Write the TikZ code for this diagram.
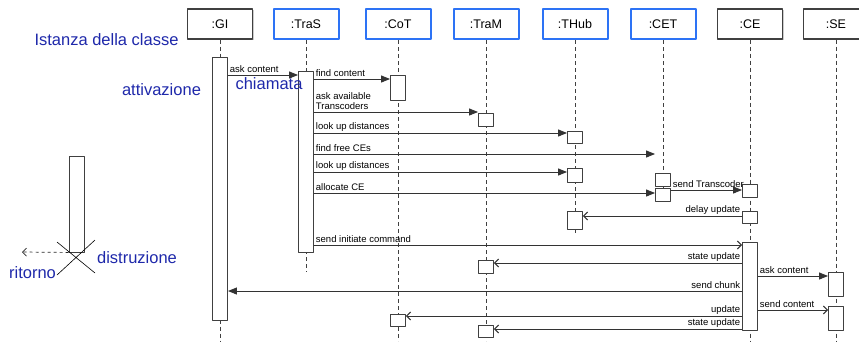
\documentclass[tikz,border=0pt]{standalone}
\usepackage{fontspec}
\setmainfont{Liberation Sans}
\usetikzlibrary{arrows.meta,shadows}
\definecolor{objblue}{RGB}{45,115,245}
\definecolor{annblue}{RGB}{30,40,170}
\tikzset{
  obj/.style={draw, fill=white, minimum width=65, minimum height=30, inner sep=0pt, font=\fontsize{12.5}{14}\selectfont},
  objblack/.style={obj, draw=black!75, line width=1.1pt, drop shadow={shadow xshift=1pt, shadow yshift=-1pt, opacity=0.4}},
  objbl/.style={obj, draw=objblue, line width=2pt},
  life/.style={draw=black!75, line width=0.8pt, dash pattern=on 4pt off 3pt},
  act/.style={draw=black!75, fill=white, line width=0.9pt, minimum width=15, inner sep=0pt},
  call/.style={draw=black!80, line width=1pt, -{Triangle[length=9pt,width=7pt]}},
  ret/.style={draw=black!80, line width=1pt, -{Straight Barb[length=4pt,width=8pt]}},
  lab/.style={inner sep=1.5pt, font=\fontsize{9.5}{10.5}\selectfont, align=left},
  note/.style={text=annblue, inner sep=0pt, font=\fontsize{16.5}{18}\selectfont}
}
\begin{document}
\begin{tikzpicture}[x=1pt, y=-1pt, line join=round]
\useasboundingbox (0,0) rectangle (859,341);
% oggetti
\foreach \n/\t/\x/\s in {gi/GI/220/objblack, tras/TraS/306/objbl, cot/CoT/398/objbl, tram/TraM/486/objbl,
  thub/THub/575/objbl, cet/CET/663/objbl, ce/CE/750/objblack, se/SE/836/objblack}
  \node[\s] (\n) at (\x,24) {:\t};
% linee di vita
\foreach \n/\e in {gi/341, tras/272, cot/341, tram/341, thub/235, cet/201, ce/341, se/341}
  \draw[life] (\n.south) -- (\n.south |- 0,\e);
% attivazioni
\foreach \n/\x/\a/\b in {gia/220/57/320, trasa/306/71/252, cota/398/75/100, cotb/398/314/326,
  trama/486/113/126, tramb/486/260/273, tramc/486/325/337, thuba/575/131/143, thubb/575/168/182,
  thubc/575/211/229, ceta/663/173/186, cetb/663/188/201, cea/750/184/197, ceb/750/211/223,
  cec/750/242/330, sea/836/272/296, seb/836/306/330}
  \node[act, minimum height=\b-\a] (\n) at (\x,{(\a+\b)/2}) {};
% messaggi
\foreach \s/\e/\y/\st/\p/\l in {gia.east/trasa.west/75/call/above right/ask content,
  trasa.east/cota.west/79/call/above right/find content,
  trasa.east/trama.west/112/call/above right/{ask available\\Transcoders},
  trasa.east/thuba.west/133/call/above right/look up distances,
  trasa.east/ceta.west/154/call/above right/find free CEs,
  trasa.east/thubb.west/172/call/above right/look up distances,
  trasa.east/cetb.west/193/call/above right/allocate CE,
  cetb.east/cea.west/190/call/above right/send Transcoder,
  ceb.west/thubc.east/216/ret/above left/delay update,
  trasa.east/cec.west/245/ret/above right/send initiate command,
  cec.west/tramb.east/263/ret/above left/state update,
  cec.east/sea.west/276/call/above right/ask content,
  cec.west/gia.east/291/call/above left/send chunk,
  cec.east/seb.west/310/ret/above right/send content,
  cec.west/cotb.east/316/ret/above left/update,
  cec.west/tramc.east/329/ret/above left/state update}
  \draw[\st] (\s |- 0,\y) node[lab, \p] {\l} -- (\e |- 0,\y);
% legenda
\node[act, minimum height=96] (legact) at (76.5,204) {};
\coordinate (retend) at (22,252);
\draw[black!85, line width=0.7pt, dashed, -{Straight Barb[length=4pt,width=8pt]}] (legact.south west) -- (retend);
\draw[line width=0.6pt] (57,242) -- (95,273) (57,275) -- (95,240);
% note
\node[note] (istanza) at (106.5,40) {Istanza della classe};
\node[note] (attiv) at (161.5,90) {attivazione};
\node[note] (chiam) at (269,84) {chiamata};
\node[note] (ritorno) at (32.5,273) {ritorno};
\node[note] (distr) at (137,258) {distruzione};
\end{tikzpicture}
\end{document}
